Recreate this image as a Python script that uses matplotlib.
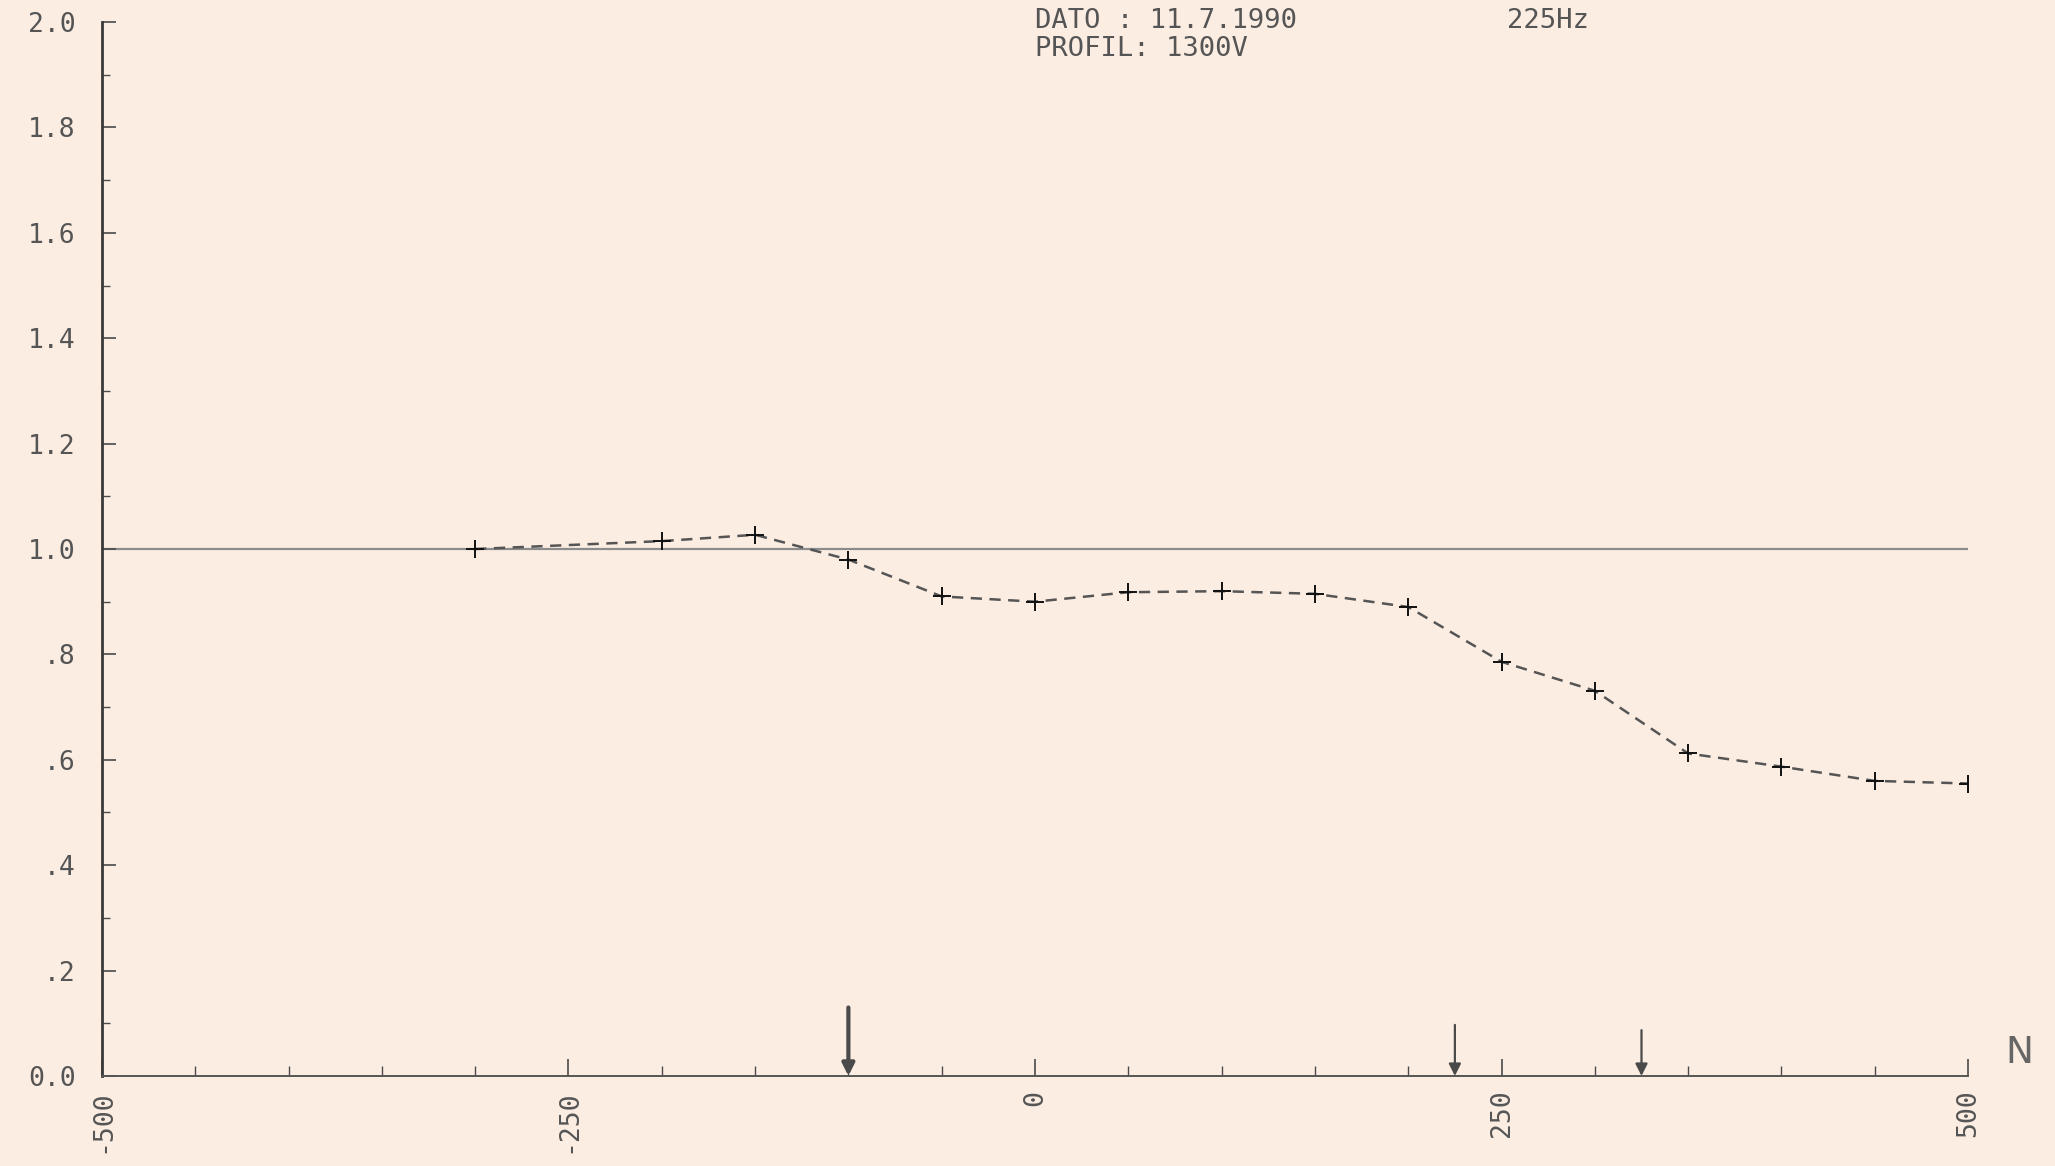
import numpy as np
import matplotlib.pyplot as plt
from matplotlib.ticker import MultipleLocator, FixedLocator

# profile data (N, relative amplitude)
n_pos = [-300, -200, -150, -100, -50, 0, 50, 100, 150, 200, 250, 300, 350, 400, 450, 500]
ampl = [1.0, 1.015, 1.027, 0.98, 0.91, 0.90, 0.918, 0.92, 0.915, 0.89,
        0.786, 0.731, 0.612, 0.587, 0.56, 0.555]

# arrows under the axis
arrow_x = [-100, 225, 325]
arrow_top = [0.13, 0.097, 0.087]
arrow_w = [3.0, 1.6, 1.6]

y_ticks = [0.0, 0.2, 0.4, 0.6, 0.8, 1.0, 1.2, 1.4, 1.6, 1.8, 2.0]
y_labels = ['0.0', '.2', '.4', '.6', '.8', '1.0', '1.2', '1.4', '1.6', '1.8', '2.0']
x_ticks = [-500, -250, 0, 250, 500]
x_labels = ['-500', '-250', '0', '250', '500']

bg = '#fcede3'
ink = '#4a4a4a'
font = 'DejaVu Sans Mono'

fig = plt.figure(figsize=(20.55, 11.66), dpi=100, facecolor=bg)
ax = fig.add_axes([0.0496, 0.0772, 0.9081, 0.9039])
ax.set_facecolor(bg)

ax.set_xlim(-500, 500)
ax.set_ylim(0, 2.0)

# reference line at 1.0
ax.plot([-500, 500], [1.0, 1.0], color='#8c8c8c', lw=1.6, zorder=1)

ax.plot(n_pos, ampl, color='#555555', lw=1.8, ls=(0, (4.5, 3)), zorder=2)
ax.plot(n_pos, ampl, ls='none', marker='+', ms=13, mew=1.4, color='#111111', zorder=3)

for x, top, w in zip(arrow_x, arrow_top, arrow_w):
    ax.annotate('', xy=(x, 0.0), xytext=(x, top),
                arrowprops=dict(arrowstyle='-|>', color=ink, lw=w,
                                mutation_scale=18, shrinkA=0, shrinkB=0))

for s in ['top', 'right']:
    ax.spines[s].set_visible(False)
ax.spines['left'].set_color('#3a3a3a')
ax.spines['left'].set_linewidth(2.0)
ax.spines['bottom'].set_color('#555555')
ax.spines['bottom'].set_linewidth(1.4)

ax.yaxis.set_major_locator(FixedLocator(y_ticks))
ax.set_yticklabels(y_labels)
ax.yaxis.set_minor_locator(MultipleLocator(0.1))
ax.xaxis.set_major_locator(FixedLocator(x_ticks))
ax.set_xticklabels(x_labels, rotation=90)
ax.xaxis.set_minor_locator(MultipleLocator(50))

ax.tick_params(axis='y', which='major', direction='in', length=10, width=1.2,
               color=ink, pad=19, labelsize=19, labelcolor='#555555')
ax.tick_params(axis='y', which='minor', direction='in', length=6, width=1.0, color=ink)
ax.tick_params(axis='x', which='major', direction='in', length=12, width=1.2,
               color=ink, pad=10, labelsize=19, labelcolor='#555555')
ax.tick_params(axis='x', which='minor', direction='in', length=7, width=1.0, color=ink)
for lab in ax.get_xticklabels() + ax.get_yticklabels():
    lab.set_family(font)

fig.text(0.5036, 0.9935, 'DATO : 11.7.1990', family=font, fontsize=19.5,
         color='#555555', va='top', ha='left')
fig.text(0.5036, 0.9690, 'PROFIL: 1300V', family=font, fontsize=19.5,
         color='#555555', va='top', ha='left')
fig.text(0.7335, 0.9935, '225Hz', family=font, fontsize=19.5,
         color='#555555', va='top', ha='left')
fig.text(0.9825, 0.097, 'N', family='DejaVu Sans', fontsize=27,
         color='#666666', va='center', ha='center')

fig.savefig('out.png', dpi=100, facecolor=bg)
